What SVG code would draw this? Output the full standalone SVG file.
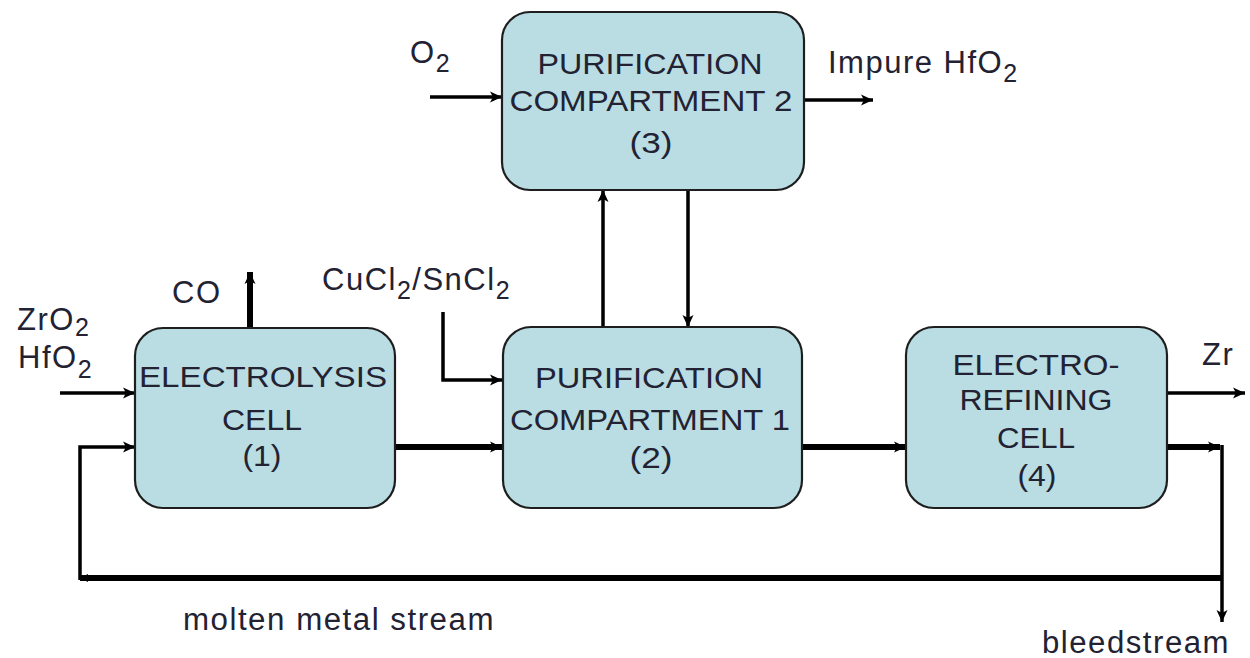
<svg xmlns="http://www.w3.org/2000/svg" width="1250" height="658" viewBox="0 0 1250 658">
<style>
  .box { fill: #b9dde2; stroke: #1e1e1e; stroke-width: 2.2; }
  .t { font-family: "Liberation Sans", Arial, sans-serif; font-size: 30px; fill: #222233; text-anchor: middle; }
  .l { font-family: "Liberation Sans", Arial, sans-serif; font-size: 31px; fill: #222233; letter-spacing: 1.5px; }
  .sub { font-size: 25px; }
  .thin { fill: none; stroke: #000; stroke-width: 3.5; }
  .thick { fill: none; stroke: #000; stroke-width: 6; }
</style>
<defs>
  <marker id="ah" markerUnits="userSpaceOnUse" markerWidth="14" markerHeight="12" refX="12" refY="6" orient="auto">
    <path d="M0,0.5 L12,6 L0,11.5 L3,6 Z" fill="#000"/>
  </marker>
  <marker id="ahs" markerUnits="userSpaceOnUse" markerWidth="10" markerHeight="10" refX="8" refY="5" orient="auto">
    <path d="M0,1 L8,5 L0,9 Z" fill="#000"/>
  </marker>
</defs>
<rect width="1250" height="658" fill="#fff"/>

<g id="connectors">
  <path class="thin" d="M60,393 H135" marker-end="url(#ah)"/>
  <path class="thick" d="M250,328 V272" marker-end="url(#ah)"/>
  <path class="thick" d="M395,447 H502" marker-end="url(#ah)"/>
  <path class="thin" d="M443,312 V380 H502" marker-end="url(#ah)"/>
  <path class="thin" d="M603,327 V190" marker-end="url(#ah)"/>
  <path class="thin" d="M688,190 V327" marker-end="url(#ah)"/>
  <path class="thin" d="M430,97 H502" marker-end="url(#ah)"/>
  <path class="thin" d="M804,100 H873" marker-end="url(#ah)"/>
  <path class="thick" d="M803,447 H906" marker-end="url(#ah)"/>
  <path class="thin" d="M1167,393 H1245" marker-end="url(#ah)"/>
  <path class="thick" d="M1167,447 H1220" marker-end="url(#ah)"/>
  <path class="thin" d="M1222,445 V622" marker-end="url(#ah)"/>
  <path class="thick" d="M1222,578 H80" marker-end="url(#ahs)"/>
  <path class="thin" d="M80,580 V447 H135" marker-end="url(#ah)"/>
</g>

<g id="node-electrolysis">
  <rect class="box" x="135" y="328" width="260" height="180" rx="28" ry="28"/>
  <text class="t" x="263" y="387" textLength="248" lengthAdjust="spacingAndGlyphs">ELECTROLYSIS</text>
  <text class="t" x="262" y="430" textLength="80" lengthAdjust="spacingAndGlyphs">CELL</text>
  <text class="t" x="262" y="466" textLength="39" lengthAdjust="spacingAndGlyphs">(1)</text>
</g>

<g id="node-purification1">
  <rect class="box" x="503" y="327" width="299" height="181" rx="28" ry="28"/>
  <text class="t" x="649" y="388" textLength="228" lengthAdjust="spacingAndGlyphs">PURIFICATION</text>
  <text class="t" x="650" y="430" textLength="280" lengthAdjust="spacingAndGlyphs">COMPARTMENT 1</text>
  <text class="t" x="651" y="468" textLength="43" lengthAdjust="spacingAndGlyphs">(2)</text>
</g>

<g id="node-purification2">
  <rect class="box" x="502" y="12" width="302" height="178" rx="28" ry="28"/>
  <text class="t" x="650" y="74" textLength="225" lengthAdjust="spacingAndGlyphs">PURIFICATION</text>
  <text class="t" x="651" y="111" textLength="283" lengthAdjust="spacingAndGlyphs">COMPARTMENT 2</text>
  <text class="t" x="651" y="153" textLength="43" lengthAdjust="spacingAndGlyphs">(3)</text>
</g>

<g id="node-electrorefining">
  <rect class="box" x="906" y="327" width="261" height="181" rx="28" ry="28"/>
  <text class="t" x="1036" y="375" textLength="167" lengthAdjust="spacingAndGlyphs">ELECTRO-</text>
  <text class="t" x="1036" y="410" textLength="153" lengthAdjust="spacingAndGlyphs">REFINING</text>
  <text class="t" x="1036" y="448" textLength="78" lengthAdjust="spacingAndGlyphs">CELL</text>
  <text class="t" x="1037" y="486" textLength="39" lengthAdjust="spacingAndGlyphs">(4)</text>
</g>

<g id="labels">
  <text class="l" x="410" y="63">O<tspan class="sub" dy="9">2</tspan></text>
  <text class="l" x="828" y="73">Impure HfO<tspan class="sub" dy="9">2</tspan></text>
  <text class="l" x="172" y="303">CO</text>
  <text class="l" x="17" y="330">ZrO<tspan class="sub" dy="6">2</tspan></text>
  <text class="l" x="18" y="368">HfO<tspan class="sub" dy="10">2</tspan></text>
  <text class="l" x="322" y="290">CuCl<tspan class="sub" dy="9">2</tspan><tspan dy="-9">/SnCl</tspan><tspan class="sub" dy="9">2</tspan></text>
  <text class="l" x="1202" y="365">Zr</text>
  <text class="l" x="183" y="630" textLength="312" lengthAdjust="spacingAndGlyphs">molten metal stream</text>
  <text class="l" x="1042" y="653" textLength="188" lengthAdjust="spacingAndGlyphs">bleedstream</text>
</g>
</svg>
